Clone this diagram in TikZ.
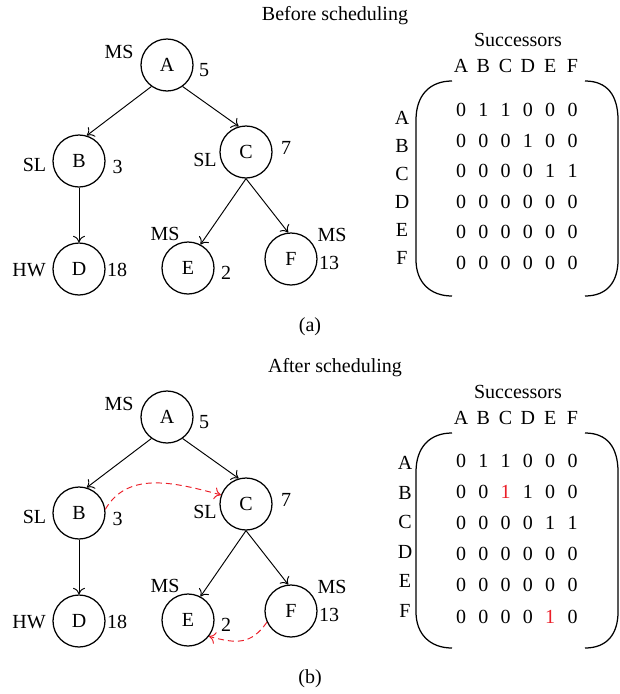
\documentclass[tikz,border=0pt]{standalone}
\usepackage{fontspec}
\setmainfont{Liberation Serif}
\usetikzlibrary{arrows.meta}
\definecolor{schedred}{RGB}{235,30,40}
\newcommand\addedone{\textcolor{schedred}{1}}
\begin{document}
\begin{tikzpicture}[x=1pt,y=-1pt,
  font=\fontsize{20}{23}\selectfont,
  task/.style={circle,draw,line width=1.25pt,minimum size=52pt,inner sep=0pt},
  txt/.style={inner sep=0pt},
  dep/.style={line width=0.95pt,
    -{Computer Modern Rightarrow[length=6.5pt,width=12pt,line width=0.95pt]}},
  added/.style={dep,draw=schedred,dash pattern=on 6pt off 4pt},
  paren/.style={line width=1.25pt}]
\useasboundingbox (0,0) rectangle (619,694);

% the two panels share the task graph and the matrix frame
\foreach \p/\dy/\title/\cap/\lx/\ly/\ls in
  {a/0/Before scheduling/{(a)}/402/118/28,
   b/352/After scheduling/{(b)}/405/111/29.5} {
\begin{scope}[shift={(0,\dy)}]
  \node[txt,anchor=base] (\p title) at (335,20) {\title};
  \node[txt] (\p cap) at (310,327) {\cap};

  % tasks
  \node[task] (\p A) at (167,65)  {A};
  \node[task] (\p B) at (79,161)  {B};
  \node[task] (\p C) at (246,152) {C};
  \node[task] (\p D) at (79,269)  {D};
  \node[task] (\p E) at (188,268) {E};
  \node[task] (\p F) at (291,259) {F};

  % resource type and cost of each task
  \node[txt] (\p msA) at (119,52)    {MS};
  \node[txt] (\p cA)  at (204,70)    {5};
  \node[txt] (\p slB) at (34.5,165)  {SL};
  \node[txt] (\p cB)  at (117.5,167) {3};
  \node[txt] (\p slC) at (205,160)   {SL};
  \node[txt] (\p cC)  at (286,147.5) {7};
  \node[txt] (\p hwD) at (29,270)    {HW};
  \node[txt] (\p cD)  at (117,270)   {18};
  \node[txt] (\p msE) at (165,233.5) {MS};
  \node[txt] (\p cE)  at (226,272.5) {2};
  \node[txt] (\p msF) at (332,235)   {MS};
  \node[txt] (\p cF)  at (329,263)   {13};

  % precedence edges
  \draw[dep] (\p A.234) -- (\p B.73);
  \draw[dep] (\p A.306) -- (\p C.106);
  \draw[dep] (\p B.south) -- (\p D.north);
  \draw[dep] (\p C.south) -- (\p E.62);
  \draw[dep] (\p C.south) -- (\p F.96);

  % successor matrix: title, column and row headers, brackets
  \node[txt] (\p succ) at (518,40) {Successors};
  \foreach \c [count=\j from 0] in {A,B,C,D,E,F} {
    \node[txt] (\p col\c) at (461+22.3*\j,66) {\c};
    \node[txt] (\p row\c) at (\lx,\ly+\ls*\j) {\c};
  }
  \draw[paren] (452,81) .. controls (430,81) and (416,95) .. (416,120)
     -- (416,260) .. controls (416,282) and (430,296) .. (452,296);
  \draw[paren] (585,81) .. controls (607,81) and (618,95) .. (618,120)
     -- (618,260) .. controls (618,282) and (607,296) .. (585,296);
\end{scope}
}

% matrix before scheduling
\foreach \row [count=\i from 0] in
  {{0,1,1,0,0,0},{0,0,0,1,0,0},{0,0,0,0,1,1},
   {0,0,0,0,0,0},{0,0,0,0,0,0},{0,0,0,0,0,0}}
  \foreach \v [count=\j from 0] in \row
    \node[txt] (am\i\j) at (461+22.3*\j,110+30.6*\i) {\v};

% matrix after scheduling, with the added dependencies in red
\foreach \row [count=\i from 0] in
  {{0,1,1,0,0,0},{0,0,\addedone,1,0,0},{0,0,0,0,1,1},
   {0,0,0,0,0,0},{0,0,0,0,0,0},{0,0,0,0,\addedone,0}}
  \foreach \v [count=\j from 0] in \row
    \node[txt] (bm\i\j) at (461+22.3*\j,460.5+31.2*\i) {\v};

% dependencies added by the scheduler
\draw[added] (bB.8) to[out=60,in=165] (bC.160);
\draw[added] (bF.205) to[out=235,in=-15,looseness=1.2] (bE.-38);
\end{tikzpicture}
\end{document}
